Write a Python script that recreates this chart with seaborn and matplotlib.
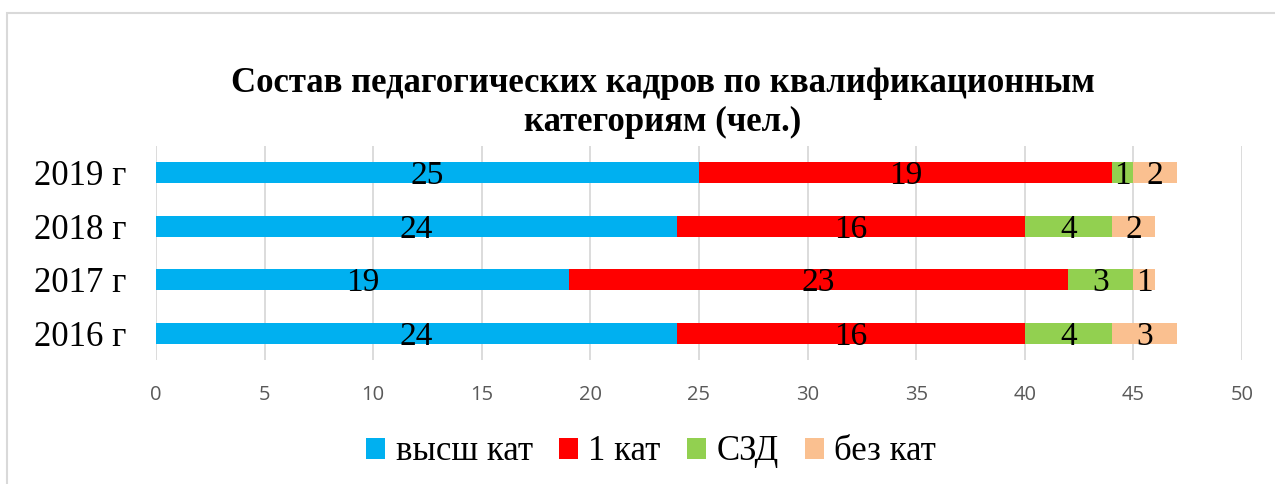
import matplotlib
matplotlib.use("Agg")
import matplotlib.pyplot as plt
from matplotlib.patches import Rectangle
import pandas as pd
import seaborn as sns

# данные
years = ["2019 г", "2018 г", "2017 г", "2016 г"]
vyssh = [25, 24, 19, 24]
kat1 = [19, 16, 23, 16]
szd = [1, 4, 3, 4]
bez = [2, 2, 1, 3]
series = ["высш кат", "1 кат", "СЗД", "без кат"]
colors = ["#00B0F0", "#FF0000", "#92D050", "#FAC090"]

df = pd.DataFrame({"year": years, "высш кат": vyssh, "1 кат": kat1,
                   "СЗД": szd, "без кат": bez})

# накопленные суммы для стека
cum = df[series].cumsum(axis=1)
cum["year"] = df["year"]

sns.set_theme(style="white")
plt.rcParams["font.family"] = ["Liberation Serif", "DejaVu Serif"]
plt.rcParams["text.color"] = "black"
plt.rcParams["ytick.color"] = "black"

fig = plt.figure(figsize=(12.75, 4.84), dpi=100)
ax = fig.add_axes([156 / 1275, 124 / 484, 1086 / 1275, 214 / 484])

# рисуем от самого длинного к короткому, чтобы получить стек
for s, c in reversed(list(zip(series, colors))):
    sns.barplot(data=cum, x=s, y="year", order=years, color=c,
                orient="h", width=0.4, ax=ax, saturation=1, label=s,
                linewidth=0)
h, l = ax.get_legend_handles_labels()
if ax.get_legend() is not None:
    ax.get_legend().remove()

# подписи в середине сегментов
for i, yr in enumerate(years):
    for s in series:
        v = df.loc[i, s]
        x = cum.loc[i, s] - v / 2
        ax.text(x, i + 0.06, str(v), ha="center", va="center", fontsize=24,
                color="black")

ax.set_xlim(0, 50)
ax.set_xticks(range(0, 51, 5))
ax.set_xlabel("")
ax.set_ylabel("")
ax.xaxis.grid(True, color="#d9d9d9", lw=1.3)
ax.set_axisbelow(True)
for sp in ax.spines.values():
    sp.set_visible(False)
ax.tick_params(axis="x", length=0, pad=18, labelsize=14.5, labelcolor="#595959")
ax.tick_params(axis="y", length=0, pad=21, labelsize=25, labelcolor="black")
for lbl in ax.get_xticklabels():
    lbl.set_fontfamily(["Open Sans", "DejaVu Sans"])

# легенда в порядке серий
order = [l.index(s) for s in series]
fig.legend([h[k] for k in order], [l[k] for k in order], loc="center",
           bbox_to_anchor=(651 / 1275, 1 - 452 / 484), ncol=4, frameon=False,
           fontsize=25, handlelength=0.55, handleheight=0.55,
           handletextpad=0.3, columnspacing=0.75, labelcolor="black")

fig.text(663 / 1275, 1 - 103 / 484,
         "Состав педагогических кадров по квалификационным\nкатегориям (чел.)",
         ha="center", va="center", fontsize=25, fontweight="bold",
         linespacing=1.2, color="black")

# рамка
fig.patches.append(Rectangle((7 / 1275, -0.1), 1.2, 1.1 - 13 / 484,
                             transform=fig.transFigure, fill=False,
                             ec="#d9d9d9", lw=1.5))

fig.savefig("out.png", dpi=100)
